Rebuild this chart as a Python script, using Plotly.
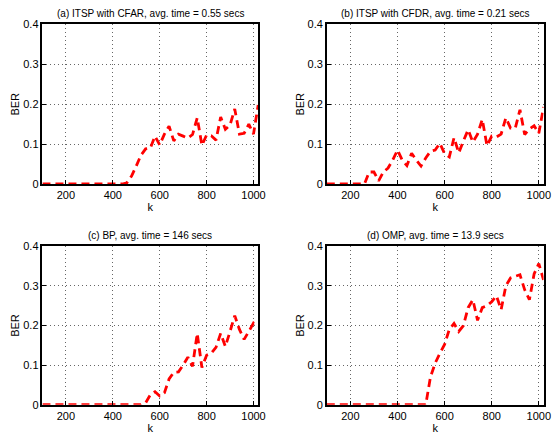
import plotly.graph_objects as go

k = [100, 120, 140, 160, 180, 200, 220, 240, 260, 280, 300, 320, 340, 360, 380, 400,
     420, 440, 460, 480, 500, 520, 540, 560, 580, 600, 620, 640, 660, 680, 700, 720,
     740, 760, 780, 800, 820, 840, 860, 880, 900, 920, 940, 960, 980, 1000, 1020]

ber_itsp_cfar = [0] * 18 + [
    0.003, 0.02, 0.045, 0.072, 0.088, 0.09, 0.12, 0.098, 0.125, 0.145, 0.108, 0.125,
    0.12, 0.115, 0.124, 0.166, 0.097, 0.123, 0.121, 0.11, 0.168, 0.137, 0.148, 0.188,
    0.125, 0.127, 0.15, 0.125, 0.198]

ber_itsp_cfdr = [0] * 9 + [
    0.03, 0.03, 0.008, 0.03, 0.04, 0.06, 0.085, 0.06, 0.046, 0.077, 0.06, 0.045,
    0.065, 0.082, 0.085, 0.102, 0.076, 0.068, 0.116, 0.078, 0.108, 0.136, 0.105,
    0.125, 0.162, 0.096, 0.12, 0.118, 0.125, 0.166, 0.14, 0.14, 0.186, 0.124, 0.138,
    0.146, 0.127, 0.193]

ber_bp = [0] * 22 + [
    0.005, 0.025, 0.033, 0.022, 0.03, 0.065, 0.082, 0.083, 0.1, 0.12, 0.097, 0.18,
    0.094, 0.125, 0.13, 0.145, 0.18, 0.147, 0.185, 0.225, 0.19, 0.165, 0.185, 0.206,
    0.198]

ber_omp = [0] * 22 + [
    0.07, 0.105, 0.13, 0.152, 0.19, 0.205, 0.185, 0.2, 0.245, 0.265, 0.213, 0.245,
    0.25, 0.26, 0.275, 0.24, 0.3, 0.32, 0.324, 0.328, 0.29, 0.265, 0.33, 0.356, 0.315]

titles = ["(a) ITSP with CFAR, avg. time = 0.55 secs",
          "(b) ITSP with CFDR, avg. time = 0.21 secs",
          "(c) BP, avg. time = 146 secs",
          "(d) OMP, avg. time = 13.9 secs"]
series = [ber_itsp_cfar, ber_itsp_cfdr, ber_bp, ber_omp]

W, H = 553, 438
xdoms = [[43 / W, 261.5 / W], [331 / W, 550.5 / W]]
ydoms = [[1 - 183 / H, 1 - 19 / H], [1 - 410 / H, 1 - 247 / H]]

FONT = "Liberation Sans, Arial, Helvetica, sans-serif"
fig = go.Figure()
annotations = []
for i in range(4):
    r, c = divmod(i, 2)
    sfx = "" if i == 0 else str(i + 1)
    fig.add_trace(go.Scatter(
        x=k, y=series[i], mode="lines", xaxis="x" + sfx, yaxis="y" + sfx,
        line=dict(color="#ff0000", width=2.8, dash="8px,5px"),
        showlegend=False, hoverinfo="skip"))
    axcommon = dict(
        showline=True, linecolor="black", linewidth=1.5, mirror=True,
        ticks="inside", ticklen=4, tickcolor="black",
        showgrid=True, gridcolor="#666666", griddash="1px,3px", gridwidth=1,
        zeroline=False, tickfont=dict(family=FONT, size=11, color="black"),
    )
    fig.layout["xaxis" + sfx] = dict(
        axcommon, domain=xdoms[c], anchor="y" + sfx, range=[100, 1020],
        tickvals=[200, 400, 600, 800, 1000], ticktext=["200", "400", "600", "800", "1000"],
        title=dict(text="k", font=dict(family=FONT, size=11, color="black"), standoff=1))
    fig.layout["yaxis" + sfx] = dict(
        axcommon, domain=ydoms[r], anchor="x" + sfx, range=[0, 0.4],
        tickvals=[0, 0.1, 0.2, 0.3, 0.4], ticktext=["0", "0.1", "0.2", "0.3", "0.4"],
        title=dict(text="BER", font=dict(family=FONT, size=11, color="black"), standoff=1))
    annotations.append(dict(
        text=titles[i], xref="paper", yref="paper",
        x=(xdoms[c][0] + xdoms[c][1]) / 2, y=ydoms[r][1],
        xanchor="center", yanchor="bottom", yshift=3, showarrow=False,
        font=dict(family=FONT, size=10, color="black")))

fig.update_layout(
    width=W, height=H, margin=dict(l=0, r=0, t=0, b=0),
    paper_bgcolor="white", plot_bgcolor="white",
    annotations=annotations)

fig.write_html("out.html")
